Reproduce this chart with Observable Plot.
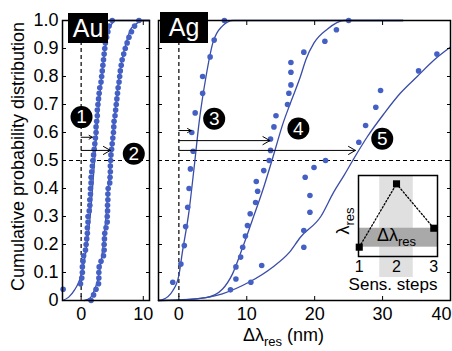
<!DOCTYPE html>
<html><head><meta charset="utf-8">
<script src="https://cdn.jsdelivr.net/npm/d3@7"></script>
<script src="https://cdn.jsdelivr.net/npm/@observablehq/plot@0.6"></script>
<style>
body{margin:0;background:#fff;font-family:"Liberation Sans",Arial,sans-serif;}
#wrap{position:relative;width:452px;height:351px;overflow:hidden;background:#fff;}
#wrap svg{position:absolute;left:0;top:0;}
.tag{position:absolute;background:#000;color:#fff;font-size:25px;text-align:center;font-family:"Liberation Sans",Arial,sans-serif;}
</style></head><body><div id="wrap"></div>
<script>
// ---------- data ----------
const yTicks = [0,0.1,0.2,0.3,0.4,0.5,0.6,0.7,0.8,0.9,1];
const auXTicks = [0,10];
const agXTicks = [0,10,20,30,40];
const auDomain = [-3,11];
const agDomain = [-3,40];

// Au panel – measured points [x, y]
const auDots1 = [[-2.9,0.04],[-0.1,0.06],[0.1,0.08],[0.2,0.10],[0.2,0.12],[0.3,0.14],[0.4,0.16],[0.7,0.18],[0.8,0.20],[0.9,0.22],[1.0,0.24],[1.0,0.26],[1.1,0.28],[1.1,0.30],[1.3,0.32],[1.4,0.34],[1.4,0.36],[1.5,0.38],[1.5,0.40],[1.6,0.42],[1.6,0.44],[1.7,0.46],[1.8,0.48],[1.9,0.50],[2.0,0.52],[2.1,0.54],[2.2,0.56],[2.3,0.58],[2.4,0.60],[2.4,0.62],[2.5,0.64],[2.6,0.66],[2.6,0.68],[2.7,0.70],[2.8,0.72],[2.9,0.74],[3.0,0.76],[3.2,0.78],[3.3,0.80],[3.4,0.82],[3.5,0.84],[3.6,0.86],[3.7,0.88],[3.8,0.90],[3.9,0.92],[4.1,0.94],[4.3,0.96],[4.5,0.98],[5.0,1.0]];
const auDots2 = [[1.6,0.00],[2.0,0.02],[2.4,0.04],[2.8,0.06],[2.85,0.08],[2.85,0.10],[2.9,0.12],[3.2,0.14],[3.6,0.16],[3.7,0.18],[3.7,0.20],[3.75,0.22],[3.8,0.24],[4.0,0.26],[4.2,0.28],[4.2,0.30],[4.25,0.32],[4.25,0.34],[4.3,0.36],[4.3,0.38],[4.35,0.40],[4.6,0.42],[4.65,0.44],[4.7,0.46],[4.7,0.48],[4.75,0.50],[4.8,0.52],[4.9,0.54],[5.0,0.56],[5.1,0.58],[5.2,0.60],[5.25,0.62],[5.3,0.64],[5.45,0.66],[5.55,0.68],[5.65,0.70],[5.75,0.72],[5.85,0.74],[5.95,0.76],[6.1,0.78],[6.2,0.80],[6.3,0.82],[6.45,0.84],[6.6,0.86],[6.85,0.88],[7.1,0.90],[7.4,0.92],[7.7,0.94],[8.1,0.96],[8.6,0.98],[9.3,1.0]];
const auFit1 = [[-3,0],[-2,0.012],[-1,0.04],[-0.5,0.06],[0,0.09],[0.5,0.14],[1,0.21],[1.5,0.31],[2,0.45],[2.5,0.6],[3,0.73],[3.5,0.84],[4,0.92],[4.5,0.97],[5,0.99],[5.5,1],[11,1]];
const auFit2 = [[0.5,0],[1.5,0.01],[2,0.03],[2.5,0.06],[3,0.11],[3.5,0.19],[4,0.3],[4.5,0.44],[5,0.57],[5.5,0.68],[6,0.78],[6.5,0.85],[7,0.9],[7.5,0.94],[8,0.97],[9,0.99],[9.8,1],[11,1]];
const auArrows = [{start:0,end:1.8,y:0.583},{start:0,end:4.7,y:0.536}];
const auBadges = [{n:"1",x:0.06,y:0.655},{n:"2",x:8.47,y:0.524}];

// Ag panel – measured points [x, y]
const agDots3 = [[-0.9,0.065],[0.3,0.13],[0.8,0.196],[1.0,0.264],[1.3,0.333],[1.5,0.40],[1.7,0.47],[2.1,0.533],[1.9,0.60],[2.4,0.67],[3.5,0.74],[3.5,0.80],[4.6,0.87],[5.2,0.93],[6.7,1.0]];
const agDots4 = [[8.4,0.077],[8.4,0.12],[9.1,0.155],[9.4,0.19],[9.8,0.23],[10.1,0.268],[10.5,0.31],[11.3,0.35],[11.6,0.39],[11.4,0.425],[12.5,0.464],[13.3,0.50],[13.5,0.536],[13.5,0.577],[14.0,0.62],[14.3,0.66],[16.0,0.70],[16.2,0.74],[16.5,0.77],[16.5,0.815],[16.5,0.85],[18.4,0.887],[21.5,0.926],[23.2,0.967],[25,1.0]];
const agDots5 = [[7.6,0.038],[10.6,0.065],[12.2,0.125],[18.4,0.19],[18.4,0.25],[19.3,0.315],[19.3,0.375],[18.6,0.44],[19.9,0.475],[21.6,0.50],[26.5,0.565],[27.5,0.625],[29,0.69],[29.7,0.75],[35.3,0.82],[38,0.88]];
const agFit3 = [[-3,0],[-2.4,0.003],[-0.9,0.035],[0,0.09],[0.5,0.17],[1.5,0.32],[2.25,0.476],[3,0.64],[4,0.8],[5,0.92],[6.4,0.98],[8,1],[33,1]];
const agFit4 = [[-3,0],[0,0.002],[4,0.01],[6.4,0.04],[7.9,0.095],[9.4,0.19],[10.8,0.286],[12.3,0.39],[14,0.524],[15.3,0.63],[16.5,0.71],[17.9,0.8],[18.7,0.86],[19.9,0.92],[21.9,0.97],[24.3,1],[33,1]];
const agFit5 = [[-3,0],[2,0.005],[6.4,0.024],[10.3,0.065],[13.8,0.119],[16.2,0.17],[17.9,0.226],[20.9,0.30],[22.8,0.387],[24.3,0.446],[25.6,0.50],[27.7,0.583],[30.2,0.667],[32.6,0.74],[35.1,0.80],[37.5,0.857],[40,0.905]];
const agArrows = [{start:0,end:1.8,y:0.607},{start:0,end:13.4,y:0.571},{start:0,end:26,y:0.536}];
const agBadges = [{n:"3",x:5.2,y:0.649},{n:"4",x:17.6,y:0.614},{n:"5",x:29.95,y:0.578}];

// inset
const insetSteps = [1,2,3];
const insetLambda = [0.115,0.897,0.349];
const insetXDomain = [0.98,3.1];
const insetHighlight = [1.55,2.45];

const yLabel = "Cumulative probability distribution";
const xLabel = "Δλ_{res} (nm)";

// ---------- style ----------
const FONT = "Liberation Sans, Arial, sans-serif";
const blueDot = "#4560c4", blueLine = "#3a4ca8";
const fmtY = d => d === 0 ? "0" : d.toFixed(1);
const none = () => "";

function subify(svg){
  const ns = "http://www.w3.org/2000/svg";
  svg.querySelectorAll("text").forEach(t => {
    const m = t.textContent.match(/^(.*?)_\{(.*?)\}(.*)$/);
    if (!m) return;
    t.textContent = "";
    const a = document.createElementNS(ns,"tspan"); a.textContent = m[1]; t.appendChild(a);
    const b = document.createElementNS(ns,"tspan"); b.textContent = m[2]; b.setAttribute("dy","5"); b.setAttribute("font-size","13"); t.appendChild(b);
    if (m[3]) { const c = document.createElementNS(ns,"tspan"); c.textContent = m[3]; c.setAttribute("dy","-5"); t.appendChild(c); }
  });
}

function panel({domain, xTicks, marginLeft, width, marginRight, dots, fits, arrows, badges, left, edgeTick, extra}) {
  const inner = edgeTick == null ? xTicks : xTicks.filter(t => t !== edgeTick);
  return Plot.plot({
    width, height: 351, marginTop: 20, marginBottom: 51, marginLeft, marginRight,
    style: {background: "transparent", fontFamily: FONT, fontSize: "18px", overflow: "visible"},
    x: {domain, axis: null}, y: {domain: [0,1], axis: null},
    marks: [
      Plot.ruleX([0], {stroke: "black", strokeDasharray: "4,3", strokeWidth: 1.2}),
      Plot.ruleY([0.5], {stroke: "black", strokeDasharray: "4,3", strokeWidth: 1.2}),
      ...fits.map(f => Plot.line(f, {x: d => d[0], y: d => d[1], stroke: blueLine, strokeWidth: 1.3, curve: "monotone-x"})),
      ...dots.map(s => Plot.dot(s, {x: d => d[0], y: d => d[1], r: 2.8, fill: blueDot})),
      Plot.arrow(arrows, {x1: "start", x2: "end", y1: "y", y2: "y", stroke: "black", strokeWidth: 1, headLength: 12}),
      Plot.dot(badges, {x: "x", y: "y", r: 11, fill: "black"}),
      Plot.text(badges, {x: "x", y: "y", text: "n", fill: "white", fontSize: 19}),
      Plot.frame({stroke: "black", strokeWidth: 1.5}),
      Plot.axisX(inner, {anchor: "bottom", tickSize: 0, tickPadding: 7, fontSize: 18, label: null}),
      edgeTick == null ? null : Plot.axisX([edgeTick], {anchor: "bottom", tickSize: 0, tickPadding: 7, fontSize: 18, label: null, textAnchor: "end", dx: 1}),
      Plot.axisX(xTicks, {anchor: "bottom", tickSize: -4, tickFormat: none, label: null}),
      Plot.axisX(xTicks, {anchor: "top", tickSize: -4, tickFormat: none, label: null}),
      left ? Plot.axisY(yTicks, {anchor: "left", tickSize: 0, tickPadding: 4, tickFormat: fmtY, fontSize: 18, label: null}) : null,
      Plot.axisY(yTicks, {anchor: "left", tickSize: -4, tickFormat: none, label: null}),
      Plot.axisY(yTicks, {anchor: "right", tickSize: -4, tickFormat: none, label: null}),
      ...extra
    ]
  });
}

const wrap = document.getElementById("wrap");

const au = panel({
  domain: auDomain, xTicks: auXTicks, marginLeft: 62, width: 160, marginRight: 11,
  dots: [auDots1, auDots2], fits: [auFit1, auFit2], arrows: auArrows, badges: auBadges, left: true,
  extra: [Plot.text([yLabel], {text: d => d, frameAnchor: "left", rotate: -90, dx: -44, dy: -4, textAnchor: "middle", fontSize: 18})]
});
const ag = panel({
  domain: agDomain, xTicks: agXTicks, marginLeft: 158, width: 452, marginRight: 2,
  dots: [agDots3, agDots4, agDots5], fits: [agFit3, agFit4, agFit5], arrows: agArrows, badges: agBadges, left: false,
  edgeTick: 40,
  extra: [Plot.text([xLabel], {text: d => d, frameAnchor: "bottom", dx: -21, dy: 40, fontSize: 18})]
});

const inset = Plot.plot({
  width: 452, height: 351, marginLeft: 358, marginRight: 15, marginTop: 175, marginBottom: 95,
  style: {background: "transparent", fontFamily: FONT, fontSize: "17px", overflow: "visible"},
  x: {domain: insetXDomain, axis: null}, y: {domain: [0,1], axis: null},
  marks: [
    Plot.frame({fill: "white", stroke: null}),
    Plot.rect([0], {x1: insetHighlight[0], x2: insetHighlight[1], y1: -0.26, y2: 1, fill: "#e0e0e0"}),
    Plot.rect([0], {x1: insetXDomain[0], x2: insetXDomain[1], y1: insetLambda[0], y2: insetLambda[2], fill: "#a9a9a9"}),
    Plot.line(insetSteps, {x: d => d, y: (d, i) => insetLambda[i], stroke: "black", strokeWidth: 1.3, strokeDasharray: "1.5,2"}),
    Plot.dot(insetSteps, {x: d => d, y: (d, i) => insetLambda[i], symbol: "square", r: 4, fill: "black"}),
    Plot.text(["Δλ_{res}"], {text: d => d, x: insetSteps[1], y: (insetLambda[0] + insetLambda[2]) / 2, dy: -2, fontSize: 18}),
    Plot.frame({stroke: "black", strokeWidth: 1.5}),
    Plot.axisX(insetSteps, {anchor: "bottom", tickSize: 0, tickPadding: 4, fontSize: 16, label: null}),
    Plot.text(["λ_{res}"], {text: d => d, frameAnchor: "left", rotate: -90, dx: -15, dy: 5, textAnchor: "middle", fontSize: 18}),
    Plot.text(["Sens. steps"], {text: d => d, frameAnchor: "bottom", dx: -5, dy: 33, fontSize: 17})
  ]
});

for (const s of [au, ag, inset]) { subify(s); wrap.appendChild(s); }

for (const [t, l, tp, w, h] of [["Au", 68, 13, 40, 30], ["Ag", 160, 12, 48, 31]]) {
  const d = document.createElement("div");
  d.className = "tag"; d.textContent = t;
  Object.assign(d.style, {left: l + "px", top: tp + "px", width: w + "px", height: h + "px", lineHeight: h + "px"});
  wrap.appendChild(d);
}
</script></body></html>
